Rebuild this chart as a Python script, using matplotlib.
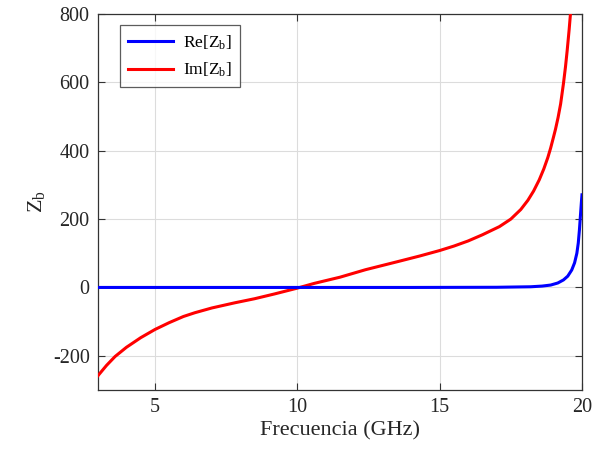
import matplotlib
matplotlib.use("Agg")
import matplotlib.pyplot as plt

plt.rcParams["font.family"] = ["Liberation Serif", "DejaVu Serif"]
plt.rcParams["mathtext.fontset"] = "custom"
plt.rcParams["mathtext.rm"] = "Liberation Serif"
plt.rcParams["mathtext.it"] = "Liberation Serif"
plt.rcParams["axes.unicode_minus"] = False

# valores
f_im = [3.0, 3.3, 3.6, 4.0, 4.5, 5.0, 5.5, 6.0, 6.4, 7.0, 7.8, 8.5, 9.2, 10.0,
        10.6, 11.5, 12.4, 13.5, 14.3, 15.0, 15.5, 16.0, 16.5, 17.1, 17.5,
        17.85, 18.1, 18.3, 18.5, 18.66, 18.8, 18.9, 19.0, 19.07, 19.16, 19.25,
        19.35, 19.42, 19.48, 19.55, 19.61, 19.66]
im_zb = [-258, -228, -202, -175, -147, -123, -103, -85, -74, -60, -45, -33, -19, -2,
         12, 30, 52, 75, 92, 108, 121, 136, 154, 178, 200,
         228, 255, 282, 315, 347, 380, 408, 440, 463, 497, 537,
         597, 645, 693, 755, 815, 875]

f_re = [3.0, 6.0, 10.0, 14.0, 17.0, 18.2, 18.6, 18.9, 19.15, 19.35, 19.5, 19.64,
        19.74, 19.82, 19.87, 19.91, 19.95, 19.98, 20.0]
re_zb = [0, 0, 0, 0, 0.5, 2, 4, 7, 13, 22, 33, 51,
         72, 100, 130, 168, 215, 250, 271]

fig = plt.figure(figsize=(6.11, 4.58), dpi=100)
ax = fig.add_axes([0.1604, 0.1485, 0.7921, 0.8209])

ax.plot(f_re, re_zb, color="#0000FF", lw=2.2, label=r"Re[$\mathrm{Z_b}$]", zorder=4)
ax.plot(f_im, im_zb, color="#FF0000", lw=2.2, label=r"Im[$\mathrm{Z_b}$]", zorder=3)

ax.set_xlim(3, 20)
ax.set_ylim(-300, 800)
ax.set_xticks([5, 10, 15, 20])
ax.set_yticks([-200, 0, 200, 400, 600, 800])
ax.grid(True, color="#DCDCDC", lw=0.8)
ax.set_axisbelow(True)
for s in ax.spines.values():
    s.set_color("#333333")
    s.set_linewidth(0.9)
ax.tick_params(direction="in", length=5, width=0.8, color="#333333",
               top=True, right=True, labelsize=14.5, labelcolor="#262626", pad=6)

ax.set_xlabel("Frecuencia (GHz)", fontsize=16, color="#262626", labelpad=3)
ax.set_ylabel(r"$\mathrm{Z_b}$", fontsize=16, color="#262626", labelpad=4)

leg = ax.legend(loc="upper left", bbox_to_anchor=(0.045, 0.97), fontsize=12.5,
                frameon=True, fancybox=False, handlelength=2.6, borderpad=0.45,
                labelspacing=0.55, handletextpad=0.6, borderaxespad=0)
leg.get_frame().set_edgecolor("#333333")
leg.get_frame().set_linewidth(0.9)

fig.savefig("out.png", dpi=100, facecolor="white")
